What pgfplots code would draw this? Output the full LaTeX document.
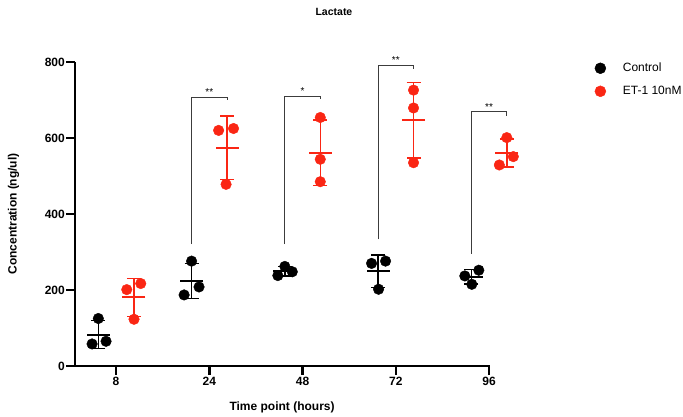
\documentclass[border=0pt]{standalone}
\usepackage{fontspec}
\setmainfont{Liberation Sans}
\usepackage{pgfplots}
\usepackage{pgfplotstable}
\pgfplotsset{compat=1.18}
\definecolor{etred}{RGB}{250,38,20}
\definecolor{brk}{RGB}{60,60,60}

\pgfplotstableread{
x y
-0.19 125
-0.257 58
-0.107 65
0.81 276
0.89 208
0.73 187
1.81 262
1.735 238
1.89 248
2.74 270
2.89 276
2.815 202
3.74 237
3.89 252
3.815 215
}\ctrlpts

\pgfplotstableread{
x y
0.115 201
0.265 217
0.193 123
1.10 620
1.26 625
1.18 478
2.19 654
2.19 544
2.19 485
3.19 726
3.19 679
3.19 535
4.19 601
4.26 551
4.11 529
}\etpts

\pgfplotstableread{
x m sd
-0.19 82.7 36.8
0.81 223.7 46.5
1.81 249.3 12.1
2.81 249.3 42.8
3.81 234.7 18.6
}\ctrlmean

\pgfplotstableread{
x m sd
0.19 180.3 50.3
1.19 574.3 83.5
2.19 561.0 85.8
3.19 646.7 99.6
4.19 560.3 37.0
}\etmean

\begin{document}
\begin{tikzpicture}
\useasboundingbox (0,0) rectangle (683pt,417pt);
\begin{axis}[
  at={(75pt,51pt)}, anchor=south west,
  scale only axis,
  width=415pt, height=304pt,
  xmin=-0.44, xmax=4.01,
  ymin=0, ymax=800,
  clip=false,
  axis x line*=bottom, axis y line*=left,
  axis line style={line width=2.6pt, -},
  xtick={0,1,2,3,4},
  xticklabels={8,24,48,72,96},
  ytick={0,200,400,600,800},
  tick align=outside,
  major tick length=9pt,
  tick style={line width=2.6pt, black},
  /pgf/number format/assume math mode=true,
  ticklabel style={font=\fontsize{12}{14}\selectfont\bfseries},
  yticklabel style={inner sep=1pt},
  xticklabel style={inner sep=2pt},
  xlabel={Time point (hours)},
  ylabel={Concentration (ng/ul)},
  label style={font=\fontsize{12}{14}\selectfont\bfseries},
  xlabel style={at={(axis description cs:0.499,-0.135)}, anchor=center},
  ylabel style={at={(axis description cs:-0.148,0.5)}, anchor=center},
  legend style={draw=none, fill=none, at={(axis description cs:1.245,1.01)}, anchor=north west,
    font=\fontsize{12}{14}\selectfont, row sep=9pt, column sep=15pt},
  legend cell align=left,
]
\addlegendimage{only marks, mark=*, mark size=5.5pt, black}
\addlegendentry{Control}
\addlegendimage{only marks, mark=*, mark size=5.5pt, etred}
\addlegendentry{ET-1 10nM}

% brackets
\addplot[brk, line width=0.7pt, forget plot] coordinates {(0.81,321) (0.81,708) (1.19,708) (1.19,700)};
\addplot[brk, line width=0.7pt, forget plot] coordinates {(1.81,321) (1.81,710) (2.19,710) (2.19,702)};
\addplot[brk, line width=0.7pt, forget plot] coordinates {(2.81,333) (2.81,791) (3.19,791) (3.19,781)};
\addplot[brk, line width=0.7pt, forget plot] coordinates {(3.81,295) (3.81,669) (4.19,669) (4.19,658)};
\node[anchor=south, inner sep=1.5pt, font=\fontsize{10}{11}\selectfont] at (axis cs:1.0,708) {**};
\node[anchor=south, inner sep=1.5pt, font=\fontsize{10}{11}\selectfont] at (axis cs:2.0,710) {*};
\node[anchor=south, inner sep=1.5pt, font=\fontsize{10}{11}\selectfont] at (axis cs:3.0,791) {**};
\node[anchor=south, inner sep=1.5pt, font=\fontsize{10}{11}\selectfont] at (axis cs:4.0,669) {**};

% points
\addplot[only marks, mark=*, mark size=5.3pt, black, forget plot] table[x=x,y=y] {\ctrlpts};
\addplot[only marks, mark=*, mark size=5.3pt, etred, forget plot] table[x=x,y=y] {\etpts};

% mean +- sd
\addplot[only marks, black, mark=-, mark size=11.5pt, mark options={line width=2pt}, forget plot,
  error bars/.cd, y dir=both, y explicit,
  error bar style={line width=1.5pt, black},
  error mark options={line width=1.5pt, mark size=7pt, rotate=90}]
  table[x=x, y=m, y error=sd] {\ctrlmean};
\addplot[only marks, etred, mark=-, mark size=11.5pt, mark options={line width=2pt}, forget plot,
  error bars/.cd, y dir=both, y explicit,
  error bar style={line width=1.5pt, etred},
  error mark options={line width=1.5pt, mark size=7pt, rotate=90}]
  table[x=x, y=m, y error=sd] {\etmean};

\node[font=\fontsize{10.5}{12}\selectfont\bfseries] at (axis description cs:0.624,1.164) {Lactate};
\end{axis}
\end{tikzpicture}
\end{document}
